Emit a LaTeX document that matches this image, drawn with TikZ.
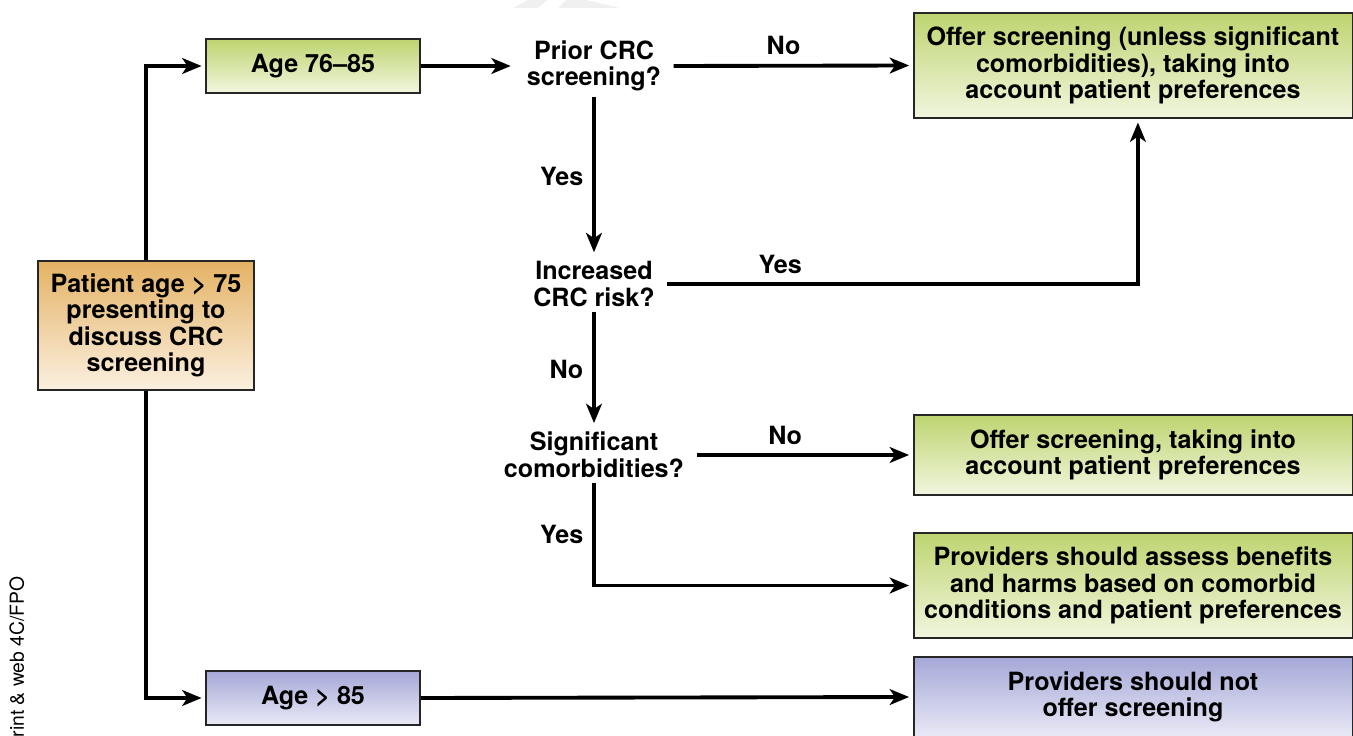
\documentclass[tikz,border=0pt]{standalone}
\usepackage{fontspec}
\setmainfont{TeX Gyre Heros}
\usetikzlibrary{arrows.meta}

\definecolor{orangetop}{RGB}{228,178,100}
\definecolor{orangebot}{RGB}{251,240,224}
\definecolor{greentop}{RGB}{190,212,112}
\definecolor{greenbot}{RGB}{241,246,222}
\definecolor{bluetop}{RGB}{165,168,215}
\definecolor{bluebot}{RGB}{233,233,246}

\begin{document}
\begin{tikzpicture}[x=0.02cm, y=-0.02cm,
		txt/.style={font=\bfseries\fontsize{14.3}{15.1}\selectfont, align=center},
		box/.style={txt, draw=black!85, line width=1.1pt, inner sep=0pt},
		orangebox/.style={box, top color=orangetop, bottom color=orangebot},
		greenbox/.style={box, top color=greentop, bottom color=greenbot},
		bluebox/.style={box, top color=bluetop, bottom color=bluebot},
		question/.style={txt, inner xsep=7pt, inner ysep=3pt},
		lbl/.style={txt, inner sep=5pt},
		arr/.style={line width=2.2pt, -{Stealth[length=11pt, width=9pt, inset=3pt]}, shorten >=2pt},
		ln/.style={line width=2.2pt}]
		\useasboundingbox (0,0) rectangle (1353,736);
		\fill[gray!12] (513,8) -- (528,0) -- (547,0) -- (538,8) -- cycle;
		\fill[gray!12] (558,8) -- (566,0) -- (586,0) -- (620,8) -- cycle;
		\node[rotate=90, anchor=base east, inner sep=0pt, font=\fontsize{11}{12}\selectfont] (fpo) at (24,576) {Print \& web 4C/FPO};

		\node[orangebox, minimum width=4.32cm, minimum height=2.58cm] (patient) at (146,325.5) {Patient age > 75\\presenting to\\discuss CRC\\screening};
		\node[greenbox, minimum width=4.28cm, minimum height=1.08cm] (young) at (313,66) {Age 76--85};
		\node[bluebox, minimum width=4.28cm, minimum height=1.08cm] (old) at (313,698) {Age > 85};

		\node[question] (prior) at (594,66) {Prior CRC\\screening?};
		\node[question] (risk) at (594,284) {Increased\\CRC risk?};
		\node[question] (comorb) at (594,455) {Significant\\comorbidities?};

		\node[greenbox, minimum width=8.78cm, minimum height=2.1cm] (offerunless) at (1133,65.5) {Offer screening (unless significant\\comorbidities), taking into\\account patient preferences};
		\node[greenbox, minimum width=8.78cm, minimum height=1.6cm] (offer) at (1133,455) {Offer screening, taking into\\account patient preferences};
		\node[greenbox, minimum width=8.78cm, minimum height=2.1cm] (assess) at (1133,585.5) {Providers should assess benefits\\and harms based on comorbid\\conditions and patient preferences};
		\node[bluebox, minimum width=8.78cm, minimum height=1.6cm] (nooffer) at (1133,697) {Providers should not\\offer screening};

		\draw[arr] (patient.north) |- (young.west);
		\draw[arr] (patient.south) |- (old.west);
		\draw[arr] (young.east) -- (prior.west);
		\draw[arr] (prior.east) -- node[lbl, above, pos=.46] (no1) {No} (offerunless.west);
		\draw[arr] (prior.south) -- node[lbl, left] (yes1) {Yes} (risk.north);
		\draw[arr] (risk.east) -| node[lbl, above, pos=.12] (yes2) {Yes} ([xshift=2.8pt]offerunless.south);
		\draw[arr] (risk.south) -- node[lbl, left] (no2) {No} (comorb.north);
		\draw[arr] (comorb.east) -- node[lbl, above, pos=.41] (no3) {No} (offer.west);
		\draw[arr] (comorb.south) |- node[lbl, left, pos=.25] (yes3) {Yes} (assess.west);
		\draw[arr] (old.east) -- (nooffer.west);
	\end{tikzpicture}
\end{document}
